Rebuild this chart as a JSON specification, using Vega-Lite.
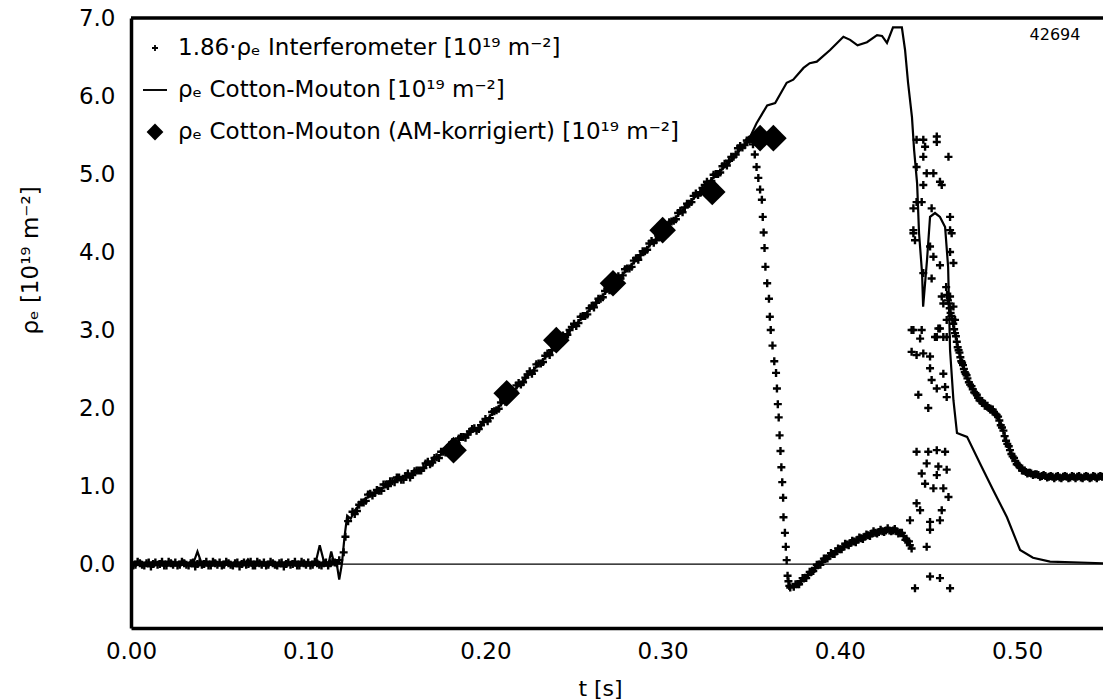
{
  "$schema": "https://vega.github.io/schema/vega-lite/v6.json",
  "width": 972,
  "height": 610,
  "autosize": {"type": "none"},
  "padding": {"left": 131, "top": 18, "right": 0, "bottom": 72},
  "background": "white",
  "config": {
    "view": {"stroke": null},
    "font": "DejaVu Sans",
    "axis": {"labelFont": "DejaVu Sans", "titleFont": "DejaVu Sans", "labelColor": "black", "titleColor": "black", "domainColor": "black"}
  },
  "datasets": {
    "ifm": [
      {"t":0.0000,"v":0.02},{"t":0.0025,"v":-0.01},{"t":0.0050,"v":0.01},{"t":0.0075,"v":-0.02},{"t":0.0100,"v":0.02},
      {"t":0.0125,"v":0.00},{"t":0.0150,"v":-0.01},{"t":0.0175,"v":0.03},{"t":0.0200,"v":-0.02},{"t":0.0225,"v":0.01},
      {"t":0.0250,"v":0.02},{"t":0.0275,"v":-0.01},{"t":0.0300,"v":0.01},{"t":0.0325,"v":-0.02},{"t":0.0350,"v":0.02},
      {"t":0.0375,"v":0.00},{"t":0.0400,"v":-0.01},{"t":0.0425,"v":0.03},{"t":0.0450,"v":-0.02},{"t":0.0475,"v":0.01},
      {"t":0.0500,"v":0.02},{"t":0.0525,"v":-0.01},{"t":0.0550,"v":0.01},{"t":0.0575,"v":-0.02},{"t":0.0600,"v":0.02},
      {"t":0.0625,"v":0.00},{"t":0.0650,"v":-0.01},{"t":0.0675,"v":0.03},{"t":0.0700,"v":-0.02},{"t":0.0725,"v":0.01},
      {"t":0.0750,"v":0.02},{"t":0.0775,"v":-0.01},{"t":0.0800,"v":0.01},{"t":0.0825,"v":-0.02},{"t":0.0850,"v":0.02},
      {"t":0.0875,"v":0.00},{"t":0.0900,"v":-0.01},{"t":0.0925,"v":0.03},{"t":0.0950,"v":-0.02},{"t":0.0975,"v":0.01},
      {"t":0.1000,"v":0.02},{"t":0.1025,"v":-0.01},{"t":0.1050,"v":0.01},{"t":0.1075,"v":-0.02},{"t":0.1100,"v":0.02},
      {"t":0.1125,"v":0.01},{"t":0.1150,"v":0.02},{"t":0.1175,"v":0.05},{"t":0.1200,"v":0.15},{"t":0.1210,"v":0.35},
      {"t":0.1225,"v":0.55},
      {"t":0.00125,"v":-0.02},{"t":0.00375,"v":0.03},{"t":0.00625,"v":-0.01},{"t":0.00875,"v":0.01},{"t":0.01125,"v":-0.03},
      {"t":0.01375,"v":0.02},{"t":0.01625,"v":0.00},{"t":0.01875,"v":-0.02},{"t":0.02125,"v":0.03},{"t":0.02375,"v":-0.01},
      {"t":0.02625,"v":-0.02},{"t":0.02875,"v":0.03},{"t":0.03125,"v":-0.01},{"t":0.03375,"v":0.01},{"t":0.03625,"v":-0.03},
      {"t":0.03875,"v":0.02},{"t":0.04125,"v":0.00},{"t":0.04375,"v":-0.02},{"t":0.04625,"v":0.03},{"t":0.04875,"v":-0.01},
      {"t":0.05125,"v":-0.02},{"t":0.05375,"v":0.03},{"t":0.05625,"v":-0.01},{"t":0.05875,"v":0.01},{"t":0.06125,"v":-0.03},
      {"t":0.06375,"v":0.02},{"t":0.06625,"v":0.00},{"t":0.06875,"v":-0.02},{"t":0.07125,"v":0.03},{"t":0.07375,"v":-0.01},
      {"t":0.07625,"v":-0.02},{"t":0.07875,"v":0.03},{"t":0.08125,"v":-0.01},{"t":0.08375,"v":0.01},{"t":0.08625,"v":-0.03},
      {"t":0.08875,"v":0.02},{"t":0.09125,"v":0.00},{"t":0.09375,"v":-0.02},{"t":0.09625,"v":0.03},{"t":0.09875,"v":-0.01},
      {"t":0.10125,"v":-0.02},{"t":0.10375,"v":0.03},{"t":0.10625,"v":-0.01},{"t":0.10875,"v":0.01},{"t":0.11125,"v":-0.02},
      {"t":0.11375,"v":0.03},{"t":0.11625,"v":0.01},
      {"t":0.1250,"v":0.67},{"t":0.1275,"v":0.68},{"t":0.1300,"v":0.79},{"t":0.1325,"v":0.81},{"t":0.1350,"v":0.90},
      {"t":0.1375,"v":0.91},{"t":0.1400,"v":0.94},{"t":0.1425,"v":1.02},{"t":0.1450,"v":1.00},{"t":0.1475,"v":1.06},
      {"t":0.1500,"v":1.11},{"t":0.1525,"v":1.08},{"t":0.1550,"v":1.13},{"t":0.1575,"v":1.11},{"t":0.1600,"v":1.19},
      {"t":0.1625,"v":1.20},{"t":0.1650,"v":1.23},{"t":0.1675,"v":1.31},{"t":0.1700,"v":1.30},{"t":0.1725,"v":1.37},
      {"t":0.1750,"v":1.44},{"t":0.1775,"v":1.43},{"t":0.1800,"v":1.52},{"t":0.1825,"v":1.52},{"t":0.1850,"v":1.61},
      {"t":0.1875,"v":1.63},{"t":0.1900,"v":1.66},{"t":0.1925,"v":1.73},{"t":0.1950,"v":1.71},{"t":0.1975,"v":1.78},
      {"t":0.2000,"v":1.86},{"t":0.2025,"v":1.87},{"t":0.2050,"v":1.96},{"t":0.2075,"v":1.99},{"t":0.2100,"v":2.10},
      {"t":0.2125,"v":2.14},{"t":0.2150,"v":2.19},{"t":0.2175,"v":2.29},{"t":0.2200,"v":2.30},{"t":0.2225,"v":2.39},
      {"t":0.2250,"v":2.47},{"t":0.2275,"v":2.48},{"t":0.2300,"v":2.57},{"t":0.2325,"v":2.59},{"t":0.2350,"v":2.70},
      {"t":0.2375,"v":2.74},{"t":0.2400,"v":2.80},{"t":0.2425,"v":2.90},{"t":0.2450,"v":2.91},{"t":0.2475,"v":3.00},
      {"t":0.2500,"v":3.08},{"t":0.2525,"v":3.09},{"t":0.2550,"v":3.18},{"t":0.2575,"v":3.20},{"t":0.2600,"v":3.31},
      {"t":0.2625,"v":3.35},{"t":0.2650,"v":3.40},{"t":0.2675,"v":3.50},{"t":0.2700,"v":3.51},{"t":0.2725,"v":3.60},
      {"t":0.2750,"v":3.69},{"t":0.2775,"v":3.70},{"t":0.2800,"v":3.79},{"t":0.2825,"v":3.81},{"t":0.2850,"v":3.92},
      {"t":0.2875,"v":3.96},{"t":0.2900,"v":4.01},{"t":0.2925,"v":4.11},{"t":0.2950,"v":4.12},{"t":0.2975,"v":4.21},
      {"t":0.3000,"v":4.29},{"t":0.3025,"v":4.30},{"t":0.3050,"v":4.39},{"t":0.3075,"v":4.42},{"t":0.3100,"v":4.53},
      {"t":0.3125,"v":4.57},{"t":0.3150,"v":4.62},{"t":0.3175,"v":4.72},{"t":0.3200,"v":4.73},{"t":0.3225,"v":4.82},
      {"t":0.3250,"v":4.90},{"t":0.3275,"v":4.91},{"t":0.3300,"v":5.00},{"t":0.3325,"v":5.02},{"t":0.3350,"v":5.13},
      {"t":0.3375,"v":5.17},{"t":0.3400,"v":5.22},{"t":0.3425,"v":5.33},{"t":0.3450,"v":5.34},{"t":0.3475,"v":5.43},
      {"t":0.3500,"v":5.45},
      {"t":0.12625,"v":0.64},{"t":0.12875,"v":0.76},{"t":0.13125,"v":0.79},{"t":0.13375,"v":0.89},{"t":0.13625,"v":0.88},
      {"t":0.13875,"v":0.95},{"t":0.14125,"v":0.94},{"t":0.14375,"v":1.02},{"t":0.14625,"v":1.06},{"t":0.14875,"v":1.05},
      {"t":0.15125,"v":1.11},{"t":0.15375,"v":1.08},{"t":0.15625,"v":1.16},{"t":0.15875,"v":1.14},{"t":0.16125,"v":1.20},
      {"t":0.16375,"v":1.20},{"t":0.16625,"v":1.29},{"t":0.16875,"v":1.28},{"t":0.17125,"v":1.36},{"t":0.17375,"v":1.36},
      {"t":0.17625,"v":1.44},{"t":0.17875,"v":1.46},{"t":0.18125,"v":1.56},{"t":0.18375,"v":1.55},{"t":0.18625,"v":1.63},
      {"t":0.18875,"v":1.62},{"t":0.19125,"v":1.70},{"t":0.19375,"v":1.74},{"t":0.19625,"v":1.73},{"t":0.19875,"v":1.82},
      {"t":0.20125,"v":1.83},{"t":0.20375,"v":1.95},{"t":0.20625,"v":1.97},{"t":0.20875,"v":2.07},{"t":0.21125,"v":2.08},
      {"t":0.21375,"v":2.19},{"t":0.21625,"v":2.21},{"t":0.21875,"v":2.32},{"t":0.22125,"v":2.33},{"t":0.22375,"v":2.43},
      {"t":0.22625,"v":2.44},{"t":0.22875,"v":2.56},{"t":0.23125,"v":2.57},{"t":0.23375,"v":2.67},{"t":0.23625,"v":2.68},
      {"t":0.23875,"v":2.79},{"t":0.24125,"v":2.82},{"t":0.24375,"v":2.93},{"t":0.24625,"v":2.94},{"t":0.24875,"v":3.04},
      {"t":0.25125,"v":3.05},{"t":0.25375,"v":3.17},{"t":0.25625,"v":3.18},{"t":0.25875,"v":3.28},{"t":0.26125,"v":3.29},
      {"t":0.26375,"v":3.40},{"t":0.26625,"v":3.42},{"t":0.26875,"v":3.53},{"t":0.27125,"v":3.54},{"t":0.27375,"v":3.65},
      {"t":0.27625,"v":3.66},{"t":0.27875,"v":3.78},{"t":0.28125,"v":3.79},{"t":0.28375,"v":3.89},{"t":0.28625,"v":3.90},
      {"t":0.28875,"v":4.01},{"t":0.29125,"v":4.03},{"t":0.29375,"v":4.14},{"t":0.29625,"v":4.15},{"t":0.29875,"v":4.25},
      {"t":0.30125,"v":4.26},{"t":0.30375,"v":4.38},{"t":0.30625,"v":4.40},{"t":0.30875,"v":4.50},{"t":0.31125,"v":4.51},
      {"t":0.31375,"v":4.62},{"t":0.31625,"v":4.64},{"t":0.31875,"v":4.75},{"t":0.32125,"v":4.76},{"t":0.32375,"v":4.86},
      {"t":0.32625,"v":4.87},{"t":0.32875,"v":4.99},{"t":0.33125,"v":5.00},{"t":0.33375,"v":5.10},{"t":0.33625,"v":5.11},
      {"t":0.33875,"v":5.22},{"t":0.34125,"v":5.25},{"t":0.34375,"v":5.36},{"t":0.34625,"v":5.37},{"t":0.34875,"v":5.44},
      {"t":0.3510,"v":5.38},{"t":0.3520,"v":5.25},{"t":0.3530,"v":5.09},{"t":0.3540,"v":4.95},{"t":0.3550,"v":4.80},
      {"t":0.3560,"v":4.67},{"t":0.3565,"v":4.45},{"t":0.3570,"v":4.25},{"t":0.3575,"v":4.05},{"t":0.3580,"v":3.81},
      {"t":0.3590,"v":3.60},{"t":0.3600,"v":3.40},{"t":0.3605,"v":3.17},{"t":0.3610,"v":3.00},{"t":0.3620,"v":2.80},
      {"t":0.3630,"v":2.60},{"t":0.3640,"v":2.45},{"t":0.3645,"v":2.25},{"t":0.3650,"v":2.05},{"t":0.3655,"v":1.88},
      {"t":0.3660,"v":1.65},{"t":0.3665,"v":1.45},{"t":0.3670,"v":1.24},{"t":0.3675,"v":1.05},{"t":0.3680,"v":0.85},
      {"t":0.3682,"v":0.60},{"t":0.3690,"v":0.40},{"t":0.3695,"v":0.22},{"t":0.3700,"v":0.05},{"t":0.3705,"v":-0.15},
      {"t":0.3710,"v":-0.22},{"t":0.3715,"v":-0.28},{"t":0.3720,"v":-0.30},
      {"t":0.3740,"v":-0.29},{"t":0.3760,"v":-0.26},{"t":0.3780,"v":-0.22},{"t":0.3800,"v":-0.18},{"t":0.3820,"v":-0.14},
      {"t":0.3840,"v":-0.10},{"t":0.3860,"v":-0.05},{"t":0.3880,"v":-0.01},{"t":0.3900,"v":0.03},{"t":0.3920,"v":0.07},
      {"t":0.3940,"v":0.10},{"t":0.3960,"v":0.13},{"t":0.3980,"v":0.16},{"t":0.4000,"v":0.19},{"t":0.4020,"v":0.22},
      {"t":0.4040,"v":0.25},{"t":0.4060,"v":0.27},{"t":0.4080,"v":0.29},{"t":0.4100,"v":0.31},{"t":0.4120,"v":0.33},
      {"t":0.4140,"v":0.35},{"t":0.4160,"v":0.37},{"t":0.4180,"v":0.39},{"t":0.4200,"v":0.40},{"t":0.4220,"v":0.41},
      {"t":0.4240,"v":0.42},{"t":0.4260,"v":0.43},{"t":0.4280,"v":0.43},{"t":0.4300,"v":0.43},{"t":0.4320,"v":0.42},
      {"t":0.4340,"v":0.40},{"t":0.4360,"v":0.36},{"t":0.4380,"v":0.30},{"t":0.4395,"v":0.24},{"t":0.4405,"v":0.20},
      {"t":0.375,"v":-0.26},{"t":0.377,"v":-0.26},{"t":0.379,"v":-0.18},{"t":0.381,"v":-0.18},{"t":0.383,"v":-0.10},
      {"t":0.385,"v":-0.09},{"t":0.387,"v":-0.01},{"t":0.389,"v":-0.01},{"t":0.391,"v":0.07},{"t":0.393,"v":0.07},
      {"t":0.395,"v":0.14},{"t":0.397,"v":0.13},{"t":0.399,"v":0.20},{"t":0.401,"v":0.19},{"t":0.403,"v":0.26},
      {"t":0.405,"v":0.24},{"t":0.407,"v":0.30},{"t":0.409,"v":0.28},{"t":0.411,"v":0.34},{"t":0.413,"v":0.32},
      {"t":0.415,"v":0.38},{"t":0.417,"v":0.36},{"t":0.419,"v":0.42},{"t":0.421,"v":0.39},{"t":0.423,"v":0.44},
      {"t":0.425,"v":0.41},{"t":0.427,"v":0.46},{"t":0.429,"v":0.42},{"t":0.431,"v":0.45},{"t":0.433,"v":0.39},
      {"t":0.435,"v":0.40},{"t":0.437,"v":0.31},{"t":0.439,"v":0.29},
      {"t":0.4433,"v":5.44},{"t":0.4471,"v":5.44},{"t":0.4481,"v":5.35},{"t":0.4547,"v":5.48},{"t":0.4547,"v":5.41},
      {"t":0.4471,"v":5.22},{"t":0.4433,"v":5.09},{"t":0.4490,"v":5.01},{"t":0.4528,"v":5.01},{"t":0.4613,"v":5.22},
      {"t":0.4471,"v":4.86},{"t":0.4565,"v":4.90},{"t":0.4575,"v":4.86},{"t":0.4433,"v":4.64},{"t":0.4462,"v":4.64},
      {"t":0.4518,"v":4.56},{"t":0.4415,"v":4.56},{"t":0.4415,"v":4.28},{"t":0.4415,"v":4.24},{"t":0.4424,"v":4.15},
      {"t":0.4509,"v":4.07},{"t":0.4528,"v":3.94},{"t":0.4565,"v":3.83},{"t":0.4622,"v":4.45},{"t":0.4622,"v":4.28},
      {"t":0.4631,"v":4.24},{"t":0.4622,"v":4.00},{"t":0.4641,"v":3.86},{"t":0.4471,"v":3.73},{"t":0.4518,"v":3.66},
      {"t":0.4575,"v":3.43},{"t":0.4622,"v":3.43},{"t":0.4584,"v":3.34},{"t":0.4641,"v":3.30},{"t":0.4603,"v":3.13},
      {"t":0.4650,"v":3.13},{"t":0.4415,"v":3.00},{"t":0.4462,"v":3.00},{"t":0.4453,"v":2.89},{"t":0.4565,"v":3.02},
      {"t":0.4547,"v":2.91},{"t":0.4584,"v":2.91},{"t":0.4405,"v":3.00},{"t":0.4556,"v":3.02},{"t":0.4537,"v":2.91},
      {"t":0.4603,"v":2.91},{"t":0.4405,"v":2.72},{"t":0.4433,"v":2.68},{"t":0.4471,"v":2.70},{"t":0.4509,"v":2.66},
      {"t":0.4509,"v":2.51},{"t":0.4584,"v":2.44},{"t":0.4518,"v":2.36},{"t":0.4547,"v":2.25},{"t":0.4594,"v":2.27},
      {"t":0.4443,"v":2.17},{"t":0.4603,"v":2.14},{"t":0.4499,"v":2.00},{"t":0.4433,"v":1.44},{"t":0.4499,"v":1.44},
      {"t":0.4547,"v":1.46},{"t":0.4594,"v":1.44},{"t":0.4490,"v":1.29},{"t":0.4556,"v":1.25},{"t":0.4462,"v":1.16},
      {"t":0.4547,"v":1.14},{"t":0.4603,"v":1.21},{"t":0.4481,"v":1.03},{"t":0.4528,"v":0.97},{"t":0.4584,"v":0.97},
      {"t":0.4613,"v":0.86},{"t":0.4433,"v":0.78},{"t":0.4453,"v":0.69},{"t":0.4575,"v":0.69},{"t":0.4396,"v":0.56},
      {"t":0.4509,"v":0.54},{"t":0.4565,"v":0.56},{"t":0.4509,"v":0.44},{"t":0.4490,"v":0.22},{"t":0.4509,"v":-0.16},
      {"t":0.4565,"v":-0.18},{"t":0.4424,"v":-0.31},{"t":0.4622,"v":-0.31},
      {"t":0.4600,"v":3.55},{"t":0.4610,"v":3.38},{"t":0.4620,"v":3.28},{"t":0.4630,"v":3.18},{"t":0.4640,"v":3.08},
      {"t":0.4650,"v":2.96},{"t":0.4660,"v":2.85},{"t":0.4670,"v":2.74},{"t":0.4680,"v":2.65},{"t":0.4690,"v":2.58},
      {"t":0.4700,"v":2.50},{"t":0.4710,"v":2.44},{"t":0.4720,"v":2.38},{"t":0.4735,"v":2.30},{"t":0.4750,"v":2.24},
      {"t":0.4765,"v":2.19},{"t":0.4780,"v":2.13},{"t":0.4795,"v":2.09},{"t":0.4810,"v":2.06},{"t":0.4825,"v":2.03},
      {"t":0.4840,"v":2.00},{"t":0.4855,"v":1.98},{"t":0.4870,"v":1.95},{"t":0.4885,"v":1.91},{"t":0.4900,"v":1.84},
      {"t":0.4915,"v":1.75},{"t":0.4930,"v":1.64},{"t":0.4945,"v":1.54},{"t":0.4960,"v":1.46},{"t":0.4975,"v":1.38},
      {"t":0.4990,"v":1.32},{"t":0.5005,"v":1.27},{"t":0.5020,"v":1.23},{"t":0.5035,"v":1.20},{"t":0.5050,"v":1.18},
      {"t":0.5065,"v":1.17},{"t":0.5080,"v":1.16},{"t":0.5100,"v":1.15},{"t":0.5120,"v":1.14},{"t":0.5140,"v":1.13},
      {"t":0.5160,"v":1.13},{"t":0.5180,"v":1.12},{"t":0.5200,"v":1.12},{"t":0.5220,"v":1.12},{"t":0.5240,"v":1.11},
      {"t":0.5260,"v":1.12},{"t":0.5280,"v":1.12},{"t":0.5300,"v":1.11},{"t":0.5320,"v":1.12},{"t":0.5340,"v":1.12},
      {"t":0.5360,"v":1.11},{"t":0.5380,"v":1.12},{"t":0.5400,"v":1.12},{"t":0.5420,"v":1.11},{"t":0.5440,"v":1.12},
      {"t":0.5460,"v":1.12},{"t":0.5480,"v":1.12},
      {"t":0.4605,"v":3.45},{"t":0.4615,"v":3.34},{"t":0.4625,"v":3.22},{"t":0.4635,"v":3.14},{"t":0.4645,"v":3.01},
      {"t":0.4655,"v":2.92},{"t":0.4665,"v":2.78},{"t":0.4675,"v":2.71},{"t":0.4685,"v":2.60},{"t":0.4695,"v":2.55},
      {"t":0.4705,"v":2.46},{"t":0.4715,"v":2.42},{"t":0.4728,"v":2.33},{"t":0.4743,"v":2.28},{"t":0.4758,"v":2.20},
      {"t":0.4773,"v":2.17},{"t":0.4788,"v":2.10},{"t":0.4803,"v":2.09},{"t":0.4818,"v":2.03},{"t":0.4833,"v":2.03},
      {"t":0.4848,"v":1.98},{"t":0.4863,"v":1.98},{"t":0.4878,"v":1.92},{"t":0.4893,"v":1.89},{"t":0.4908,"v":1.78},
      {"t":0.4923,"v":1.71},{"t":0.4938,"v":1.58},{"t":0.4953,"v":1.51},{"t":0.4968,"v":1.41},{"t":0.4983,"v":1.36},
      {"t":0.4998,"v":1.28},{"t":0.5013,"v":1.26},{"t":0.5028,"v":1.20},{"t":0.5043,"v":1.20},{"t":0.5058,"v":1.16},
      {"t":0.5073,"v":1.17},{"t":0.5090,"v":1.14},{"t":0.5110,"v":1.15},{"t":0.5130,"v":1.12},{"t":0.5150,"v":1.14},
      {"t":0.5170,"v":1.11},{"t":0.5190,"v":1.13},{"t":0.5210,"v":1.10},{"t":0.5230,"v":1.13},{"t":0.5250,"v":1.10},
      {"t":0.5270,"v":1.13},{"t":0.5290,"v":1.10},{"t":0.5310,"v":1.13},{"t":0.5330,"v":1.10},{"t":0.5350,"v":1.13},
      {"t":0.5370,"v":1.10},{"t":0.5390,"v":1.13},{"t":0.5410,"v":1.10},{"t":0.5430,"v":1.13},{"t":0.5450,"v":1.10},
      {"t":0.5470,"v":1.13}
    ],
    "cm": [
      {"t":0.000,"v":0.00},{"t":0.012,"v":0.01},{"t":0.025,"v":-0.01},{"t":0.035,"v":0.00},{"t":0.0375,"v":0.16},
      {"t":0.040,"v":0.00},{"t":0.052,"v":0.01},{"t":0.064,"v":0.00},{"t":0.066,"v":0.06},{"t":0.068,"v":0.00},
      {"t":0.085,"v":0.01},{"t":0.104,"v":0.00},{"t":0.1065,"v":0.24},{"t":0.109,"v":0.02},{"t":0.1115,"v":0.01},
      {"t":0.113,"v":0.16},{"t":0.1145,"v":0.02},{"t":0.116,"v":0.02},{"t":0.1175,"v":-0.20},{"t":0.119,"v":0.00},
      {"t":0.1205,"v":0.35},{"t":0.122,"v":0.62},{"t":0.124,"v":0.58},{"t":0.126,"v":0.68},{"t":0.131,"v":0.82},
      {"t":0.1405,"v":0.95},{"t":0.150,"v":1.08},{"t":0.163,"v":1.20},{"t":0.170,"v":1.32},{"t":0.178,"v":1.46},
      {"t":0.186,"v":1.60},{"t":0.197,"v":1.76},{"t":0.214,"v":2.17},{"t":0.240,"v":2.80},{"t":0.272,"v":3.58},
      {"t":0.300,"v":4.26},{"t":0.328,"v":4.94},{"t":0.340,"v":5.20},{"t":0.349,"v":5.46},{"t":0.353,"v":5.65},
      {"t":0.359,"v":5.88},{"t":0.3635,"v":5.91},{"t":0.370,"v":6.17},{"t":0.3737,"v":6.21},{"t":0.3795,"v":6.36},
      {"t":0.383,"v":6.42},{"t":0.387,"v":6.44},{"t":0.3945,"v":6.59},{"t":0.402,"v":6.76},{"t":0.4058,"v":6.72},
      {"t":0.410,"v":6.65},{"t":0.4153,"v":6.69},{"t":0.421,"v":6.78},{"t":0.4238,"v":6.77},{"t":0.4266,"v":6.68},
      {"t":0.430,"v":6.88},{"t":0.435,"v":6.88},{"t":0.4368,"v":6.59},{"t":0.4385,"v":6.17},{"t":0.4407,"v":5.73},
      {"t":0.4419,"v":5.31},{"t":0.4436,"v":4.88},{"t":0.4447,"v":4.24},{"t":0.4464,"v":3.73},{"t":0.447,"v":3.30},
      {"t":0.4492,"v":3.90},{"t":0.4509,"v":4.45},{"t":0.4537,"v":4.50},{"t":0.4565,"v":4.45},{"t":0.4594,"v":4.32},
      {"t":0.4611,"v":3.81},{"t":0.4622,"v":2.74},{"t":0.4641,"v":2.10},{"t":0.4661,"v":1.68},{"t":0.4718,"v":1.63},
      {"t":0.4791,"v":1.29},{"t":0.4865,"v":0.95},{"t":0.4943,"v":0.60},{"t":0.5017,"v":0.18},{"t":0.509,"v":0.08},
      {"t":0.5186,"v":0.03},{"t":0.5485,"v":0.01}
    ],
    "am": [
      {"t":0.182,"v":1.46},{"t":0.212,"v":2.19},{"t":0.240,"v":2.87},{"t":0.272,"v":3.60},
      {"t":0.300,"v":4.28},{"t":0.328,"v":4.77},{"t":0.355,"v":5.46},{"t":0.3625,"v":5.46}
    ],
    "marks": [{"label": "42694"}]
  },
  "layer": [
    {
      "data": {"name": "ifm"},
      "mark": {"type": "point", "filled": true, "color": "black", "size": 1024, "opacity": 1, "clip": true},
      "encoding": {
        "x": {
          "field": "t", "type": "quantitative",
          "scale": {"domain": [0, 0.5485], "nice": false, "zero": false},
          "axis": {
            "values": [0, 0.1, 0.2, 0.3, 0.4, 0.5], "format": ".2f", "grid": false, "ticks": false,
            "labelFlush": false, "labelOverlap": false,
            "domainWidth": 3.5, "labelFontSize": 23, "labelPadding": 12,
            "title": "t [s]", "titleFontSize": 22, "titleFontWeight": "normal",
            "titleX": 469, "titleY": 60, "titleAlign": "center", "titleBaseline": "middle"
          }
        },
        "y": {
          "field": "v", "type": "quantitative",
          "scale": {"domain": [-0.82, 7.0], "nice": false, "zero": false},
          "axis": {
            "values": [0, 1, 2, 3, 4, 5, 6, 7], "format": ".1f", "grid": false, "ticks": false,
            "labelFlush": false, "labelOverlap": false,
            "domainWidth": 3.5, "labelFontSize": 23, "labelPadding": 16,
            "title": "ρₑ [10¹⁹ m⁻²]", "titleFontSize": 23, "titleFontWeight": "normal",
            "titleX": -101, "titleY": 242, "titleAngle": 270, "titleAlign": "center", "titleBaseline": "middle"
          }
        },
        "shape": {
          "datum": "1.86·ρₑ Interferometer [10¹⁹ m⁻²]", "type": "nominal",
          "scale": {
            "domain": ["1.86·ρₑ Interferometer [10¹⁹ m⁻²]", "ρₑ Cotton-Mouton [10¹⁹ m⁻²]", "ρₑ Cotton-Mouton (AM-korrigiert) [10¹⁹ m⁻²]"],
            "range": [
              "M-0.25,-0.075H-0.075V-0.25H0.075V-0.075H0.25V0.075H0.075V0.25H-0.075V0.075H-0.25Z",
              "M-1,-0.08H1V0.08H-1Z",
              "M-0.7,0L0,-0.7L0.7,0L0,0.7Z"
            ]
          },
          "legend": {
            "title": null, "orient": "none", "legendX": 12, "legendY": 18, "padding": 0,
            "labelFont": "DejaVu Sans", "labelFontSize": 23, "labelColor": "black", "labelLimit": 0,
            "labelOffset": 11, "rowPadding": 18, "symbolSize": 576,
            "symbolFillColor": "black", "symbolStrokeColor": "black", "symbolStrokeWidth": 0,
            "encode": {"symbols": {"update": {"fill": {"value": "black"}, "stroke": {"value": "black"}, "strokeWidth": {"value": 0.5}, "size": {"value": 576}, "opacity": {"value": 1}}}}
          }
        }
      }
    },
    {
      "data": {"name": "cm"},
      "mark": {"type": "line", "color": "black", "strokeWidth": 2.2, "clip": true},
      "encoding": {
        "x": {"field": "t", "type": "quantitative"},
        "y": {"field": "v", "type": "quantitative"}
      }
    },
    {
      "data": {"name": "am"},
      "mark": {"type": "point", "filled": true, "color": "black", "size": 1450, "opacity": 1, "clip": true},
      "encoding": {
        "x": {"field": "t", "type": "quantitative"},
        "y": {"field": "v", "type": "quantitative"},
        "shape": {"datum": "ρₑ Cotton-Mouton (AM-korrigiert) [10¹⁹ m⁻²]", "type": "nominal"}
      }
    },
    {
      "data": {"name": "marks"},
      "mark": {"type": "rule", "color": "black", "strokeWidth": 1.2},
      "encoding": {"y": {"datum": 0, "type": "quantitative"}}
    },
    {
      "data": {"name": "marks"},
      "mark": {"type": "rule", "color": "black", "strokeWidth": 3.5},
      "encoding": {"y": {"datum": 7, "type": "quantitative"}}
    },
    {
      "data": {"name": "marks"},
      "mark": {"type": "text", "fontSize": 16, "font": "DejaVu Sans", "color": "black", "align": "center", "baseline": "middle"},
      "encoding": {
        "x": {"datum": 0.5214, "type": "quantitative"},
        "y": {"datum": 6.78, "type": "quantitative"},
        "text": {"field": "label"}
      }
    }
  ]
}
